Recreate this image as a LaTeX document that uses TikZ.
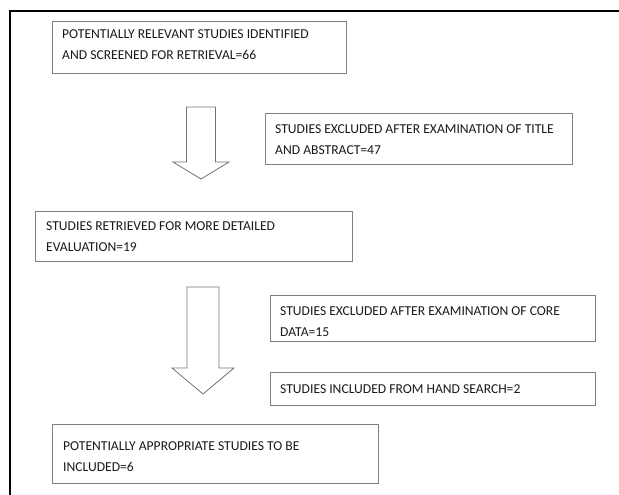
\documentclass[tikz,border=0pt]{standalone}
\usepackage{fontspec}
\setmainfont{Carlito}
\usetikzlibrary{calc}
\def\blockarrow(#1,#2)(#3:#4:#5:#6){\draw[arrowline] ({#1-#3},#2) -- ({#1+#3},#2) -- ({#1+#3},#4) -- ({#1+#5},#4) -- (#1,#6) -- ({#1-#5},#4) -- ({#1-#3},#4) -- cycle;}

\begin{document}
\begin{tikzpicture}[x=1pt,y=-1pt,
	box/.style={draw=black!50, line width=0.8pt, anchor=north west, inner sep=0pt},
	boxtext/.style={anchor=north west, align=left, inner sep=0pt, font=\fontsize{13.6}{21}\selectfont, text=black!90},
	arrowline/.style={draw=black!55, line width=0.8pt, line join=miter},
	frame/.style={line width=2.8pt, color=black}]
			%%%%% START %%%%%
			\useasboundingbox (0,0) rectangle (619,495);
			
			\draw[frame] (10,500) -- (10,11) -- (625,11);
			
			\node[box, minimum width=294pt, minimum height=52pt] (found) at (52,21) {};
			\node[boxtext] (foundtext) at ($(found.north west)+(10,8)$) {POTENTIALLY RELEVANT STUDIES IDENTIFIED\\AND SCREENED FOR RETRIEVAL=66};
			
			\blockarrow(201,107)(14.5:162:28:179);
			
			\node[box, minimum width=307pt, minimum height=51pt] (title) at (265,113) {};
			\node[boxtext] (titletext) at ($(title.north west)+(10,11)$) {STUDIES EXCLUDED AFTER EXAMINATION OF TITLE\\AND ABSTRACT=47};
			
			\node[box, minimum width=317pt, minimum height=50pt] (detail) at (35,211) {};
			\node[boxtext] (detailtext) at ($(detail.north west)+(11,10)$) {STUDIES RETRIEVED FOR MORE DETAILED\\EVALUATION=19};
			
			\blockarrow(203,287)(16:368:31:394);
			
			\node[box, minimum width=325pt, minimum height=46pt] (core) at (270,295) {};
			\node[boxtext] (coretext) at ($(core.north west)+(10,11)$) {STUDIES EXCLUDED AFTER EXAMINATION OF CORE\\DATA=15};
			
			\node[box, minimum width=325pt, minimum height=33pt] (hand) at (270,372) {};
			\node[boxtext] (handtext) at ($(hand.north west)+(10,12)$) {STUDIES INCLUDED FROM HAND SEARCH=2};
			
			\node[box, minimum width=326pt, minimum height=59pt] (final) at (52,424) {};
			\node[boxtext] (finaltext) at ($(final.north west)+(11,17)$) {POTENTIALLY APPROPRIATE STUDIES TO BE\\INCLUDED=6};
			
			%%%%% END %%%%%
\end{tikzpicture}
\end{document}
